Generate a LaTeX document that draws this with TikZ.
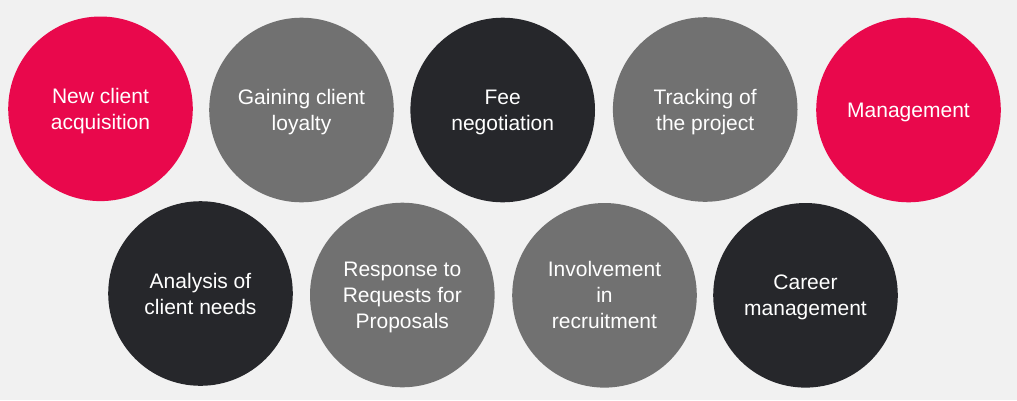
\documentclass[tikz,border=0pt]{standalone}
\usepackage{fontspec}
\setmainfont{Liberation Sans}
\definecolor{bg}{HTML}{F1F1F1}
\definecolor{cred}{HTML}{E9084C}
\definecolor{cgray}{HTML}{717171}
\definecolor{cdark}{HTML}{26272B}
\tikzset{
  bubble/.style={circle, minimum size=184.6pt, inner sep=0pt, text=white, align=center,
    text depth=0pt, font=\fontsize{21}{26}\selectfont},
  redb/.style={bubble, fill=cred},
  grayb/.style={bubble, fill=cgray},
  darkb/.style={bubble, fill=cdark}
}
\begin{document}
\begin{tikzpicture}[x=1pt,y=-1pt]
\fill[bg] (0,0) rectangle (1017,400);
\useasboundingbox (0,0) rectangle (1017,400);
\node[redb]  (n1) at (100.5,108.8) {New client\\acquisition};
\node[grayb] (n2) at (301.5,110) {Gaining client\\loyalty};
\node[darkb] (n3) at (502.7,110) {Fee\\negotiation};
\node[grayb] (n4) at (705.2,109.5) {Tracking of\\the project};
\node[redb]  (n5) at (908.5,110) {Management};
\node[darkb] (n6) at (200.5,293.5) {Analysis of\\client needs};
\node[grayb] (n7) at (402.3,295) {Response to\\Requests for\\Proposals};
\node[grayb] (n8) at (604.5,295.3) {Involvement\\in\\recruitment};
\node[darkb] (n9) at (805.5,295.3) {Career\\management};
\end{tikzpicture}
\end{document}
